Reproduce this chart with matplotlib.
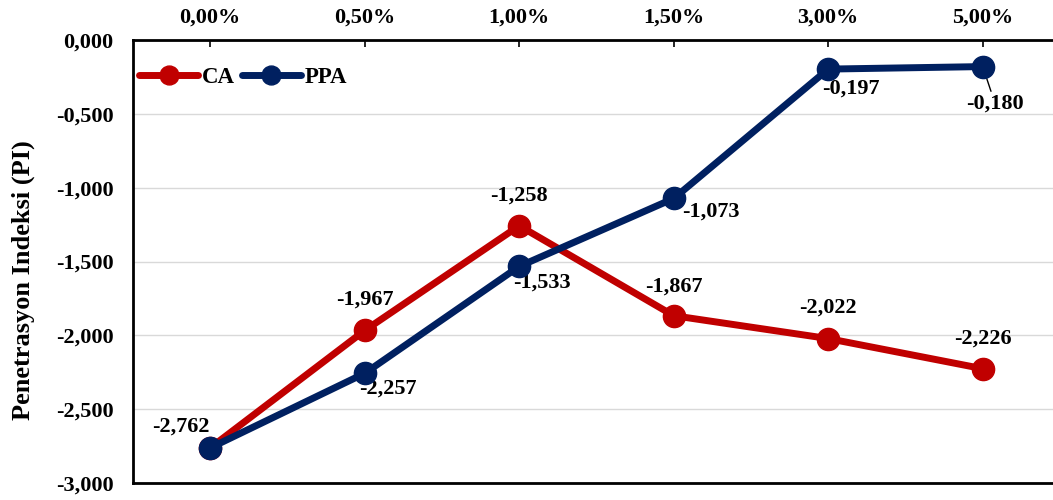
import matplotlib.pyplot as plt
from matplotlib.ticker import FuncFormatter

categories = ["0,00%", "0,50%", "1,00%", "1,50%", "3,00%", "5,00%"]
ca_values = [-2.762, -1.967, -1.258, -1.867, -2.022, -2.226]
ppa_values = [-2.762, -2.257, -1.533, -1.073, -0.197, -0.180]

plt.rcParams['font.family'] = ['Liberation Serif', 'DejaVu Serif']
plt.rcParams['font.weight'] = 'bold'

red = '#C00000'
blue = '#002060'

fig = plt.figure(figsize=(10.53, 5), dpi=100)
ax = fig.add_axes([133 / 1053, 17 / 500, 927 / 1053, 443 / 500])

x = list(range(len(categories)))
ax.plot(x, ca_values, color=red, lw=5, marker='o', ms=16, label='CA', zorder=3,
        solid_capstyle='round')
ax.plot(x, ppa_values, color=blue, lw=5, marker='o', ms=16, label='PPA', zorder=4,
        solid_capstyle='round')

fmt = lambda v: f"{v:.3f}".replace('.', ',')
lab_size = 16

# CA labels above the points, the first one up-left
ca_offsets = [(-21, 15), (0, 22), (0, 22), (0, 21), (0, 22), (0, 22)]
for i, v in enumerate(ca_values):
    dx, dy = ca_offsets[i]
    ax.annotate(fmt(v), (i, v), xytext=(dx, dy), textcoords='offset points',
                ha='center', va='center', fontsize=lab_size, fontweight='bold')

# PPA labels below-right, first point shares the CA label
ppa_offsets = [None, (17, -11), (16, -12), (27, -9.5), (16, -14), (9, -27)]
for i, v in enumerate(ppa_values):
    if ppa_offsets[i] is None:
        continue
    dx, dy = ppa_offsets[i]
    arrow = None
    if i == 5:
        arrow = dict(arrowstyle='-', color='black', lw=1, shrinkA=0, shrinkB=0)
    ax.annotate(fmt(v), (i, v), xytext=(dx, dy), textcoords='offset points',
                ha='center', va='center', fontsize=lab_size, fontweight='bold',
                arrowprops=arrow)

ax.set_xlim(-0.5, 5.5)
ax.set_ylim(-3, 0)
ax.set_yticks([-3, -2.5, -2, -1.5, -1, -0.5, 0])
ax.yaxis.set_major_formatter(FuncFormatter(lambda v, p: fmt(v)))
ax.set_xticks(x)
ax.set_xticklabels(categories)
ax.xaxis.tick_top()
ax.tick_params(axis='x', direction='in', length=5, width=1.2, labelsize=16, pad=9)
ax.tick_params(axis='y', length=0, labelsize=16, pad=14)

ax.grid(axis='y', color='#d9d9d9', lw=1)
ax.set_axisbelow(True)
for s in ['top', 'left', 'bottom']:
    ax.spines[s].set_linewidth(2)
    ax.spines[s].set_color('black')
ax.spines['right'].set_visible(False)

ax.set_ylabel('Penetrasyon Indeksi (PI)', fontsize=19, fontweight='bold')
ax.yaxis.set_label_coords(-0.106, 0.458)

ax.legend(loc='upper left', ncol=2, frameon=False, handlelength=2.6,
          columnspacing=0.3, handletextpad=0.15, bbox_to_anchor=(-0.016, 0.985),
          markerscale=0.85, prop={'weight': 'bold', 'size': 16.5})

fig.savefig('out.png', dpi=100)
